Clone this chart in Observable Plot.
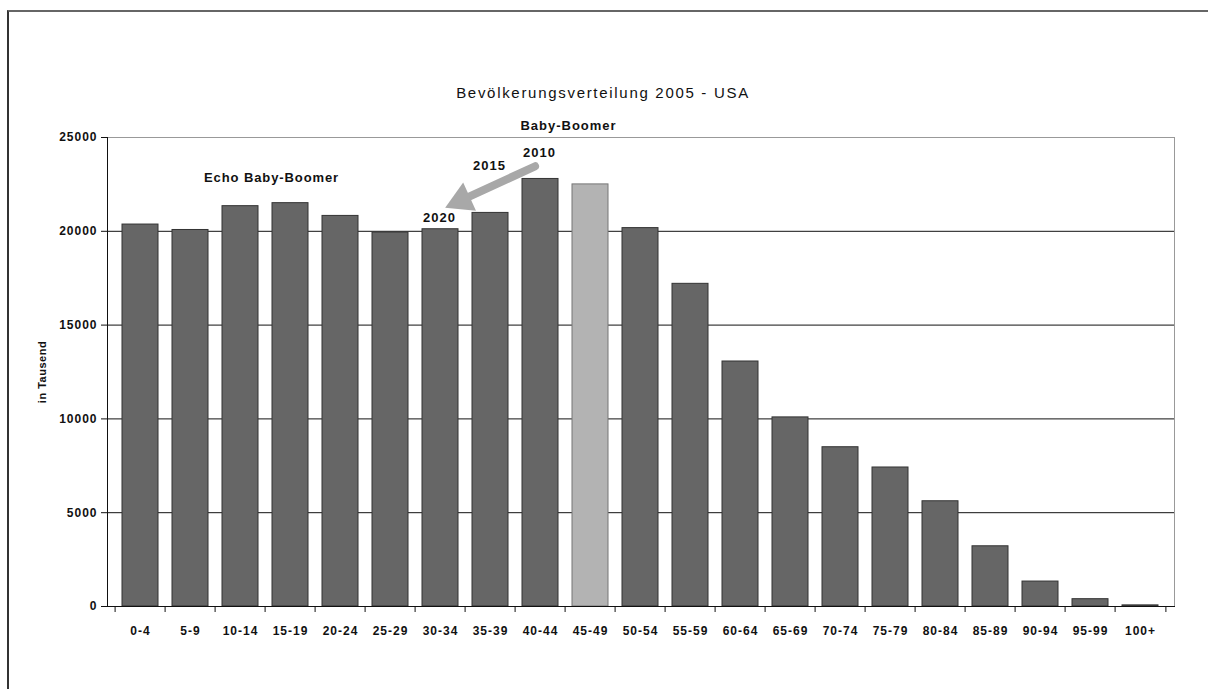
<!DOCTYPE html>
<html><head><meta charset="utf-8">
<script src="https://cdn.jsdelivr.net/npm/d3@7"></script>
<script src="https://cdn.jsdelivr.net/npm/@observablehq/plot@0.6"></script>
<style>
body{margin:0;background:#fff;overflow:hidden}
#wrap{position:relative;width:1208px;height:689px;overflow:hidden}
#border{position:absolute;left:7px;top:10px;width:1300px;height:800px;border-left:2px solid #333;border-top:2px solid #666}
#wrap svg{position:absolute;left:0;top:0}
</style></head><body><div id="wrap"><div id="border"></div></div>
<script>
const categories = ["0-4","5-9","10-14","15-19","20-24","25-29","30-34","35-39","40-44","45-49","50-54","55-59","60-64","65-69","70-74","75-79","80-84","85-89","90-94","95-99","100+"];
const population = [20360,20070,21340,21500,20820,19930,20110,20980,22790,22500,20170,17200,13060,10080,8490,7410,5610,3210,1330,390,60];
const highlightGroup = "45-49";
const yTicks = [0,5000,10000,15000,20000,25000];
const gridValues = [5000,10000,15000,20000];
const titleText = "Bevölkerungsverteilung 2005 - USA";
const yLabel = "in Tausend";
const echoLabel = ["Echo Baby-Boomer"], echoAt = ["15-19"], echoValue = [22850];
const boomerLabel = ["Baby-Boomer"], boomerAt = ["45-49"], boomerValue = [25620];
const yearLabels = ["2010","2015","2020"], yearAt = ["40-44","35-39","30-34"], yearValue = [24200,23500,20730];
const arrowFrom = ["40-44"], arrowFromValue = [23600], arrowTo = ["30-34"], arrowToValue = [21140];

const data = categories.map((c,i)=>({age:c, value:population[i]}));
const W=1208,H=689,mL=107,mR=34,mT=137,mB=83;
const step=(W-mL-mR)/categories.length;
const font="'Liberation Sans', Arial, sans-serif";

// arrow direction in screen space, derived from the layout
const xc = c => mL + step*(categories.indexOf(c)+0.5);
const yc = v => (H-mB) - v/25000*(H-mB-mT);
const ax = xc(arrowTo[0]) - xc(arrowFrom[0]), ay = yc(arrowToValue[0]) - yc(arrowFromValue[0]);
const alen = Math.hypot(ax,ay), ux = ax/alen, uy = ay/alen;
const headRot = Math.atan2(uy,ux)*180/Math.PI + 90;
const tipInset = 5, headCenter = 18;

const chart = Plot.plot({
  width:W,height:H,marginLeft:mL,marginRight:mR,marginTop:mT,marginBottom:mB,
  style:{fontFamily:font,background:"transparent",overflow:"visible",color:"#111",letterSpacing:"1px"},
  x:{domain:categories,paddingInner:0.276,paddingOuter:0.138,label:null},
  y:{domain:[0,25000],label:null},
  marks:[
    Plot.ruleY(gridValues,{stroke:"#111",strokeWidth:1}),
    Plot.frame({stroke:"#999"}),
    Plot.barY(data,{filter:d=>d.age!==highlightGroup,x:"age",y:"value",fill:"#666666",stroke:"#333",strokeWidth:1}),
    Plot.barY(data,{filter:d=>d.age===highlightGroup,x:"age",y:"value",fill:"#b3b3b3",stroke:"#777",strokeWidth:1}),
    Plot.frame({anchor:"left",stroke:"#111"}),
    Plot.frame({anchor:"bottom",stroke:"#111"}),
    Plot.axisY({ticks:yTicks,tickSize:6,tickPadding:4,tickFormat:d=>String(d),fontWeight:"bold",fontSize:12,label:null}),
    Plot.axisX({tickSize:0,tickPadding:20,fontWeight:"bold",fontSize:12,label:null}),
    Plot.axisX({tickSize:6,text:null,dx:-step/2,label:null}),
    Plot.axisX({ticks:[categories[categories.length-1]],tickSize:6,text:null,dx:step/2,label:null}),
    Plot.text([yLabel],{frameAnchor:"left",textAnchor:"middle",rotate:-90,dx:-65,fontSize:11,fontWeight:"bold",fill:"#111"}),
    Plot.text([titleText],{frameAnchor:"top",dx:-38,dy:-50,fontSize:15,fill:"#111"}),
    Plot.text(echoLabel,{x:()=>echoAt[0],y:()=>echoValue[0],text:d=>d,dx:-19,fontSize:13,fontWeight:"bold",fill:"#111"}),
    Plot.text(boomerLabel,{x:()=>boomerAt[0],y:()=>boomerValue[0],text:d=>d,dx:-22,fontSize:13,fontWeight:"bold",fill:"#111"}),
    Plot.text(yearLabels,{x:(d,i)=>yearAt[i],y:(d,i)=>yearValue[i],text:d=>d,dx:-1,fontSize:13,fontWeight:"bold",fill:"#111"}),
    Plot.arrow([0],{x1:()=>arrowFrom[0],y1:()=>arrowFromValue[0],x2:()=>arrowTo[0],y2:()=>arrowToValue[0],
      stroke:"#a8a8a8",strokeWidth:8,headLength:0,insetStart:6,insetEnd:tipInset+20}),
    Plot.dot([0],{x:()=>arrowTo[0],y:()=>arrowToValue[0],symbol:"triangle",r:11.5,fill:"#a8a8a8",stroke:"none",
      rotate:headRot,dx:-ux*(tipInset+headCenter),dy:-uy*(tipInset+headCenter)})
  ]
});
document.getElementById("wrap").appendChild(chart);
d3.select(chart).selectAll("text").each(function(){
  const t=this.textContent;
  if(t===titleText) this.style.letterSpacing="1.7px";
  else if(t===yLabel) this.style.letterSpacing="0.5px";
  else if(t===echoLabel[0]) this.style.letterSpacing="0.9px";
});
</script>
</body></html>
